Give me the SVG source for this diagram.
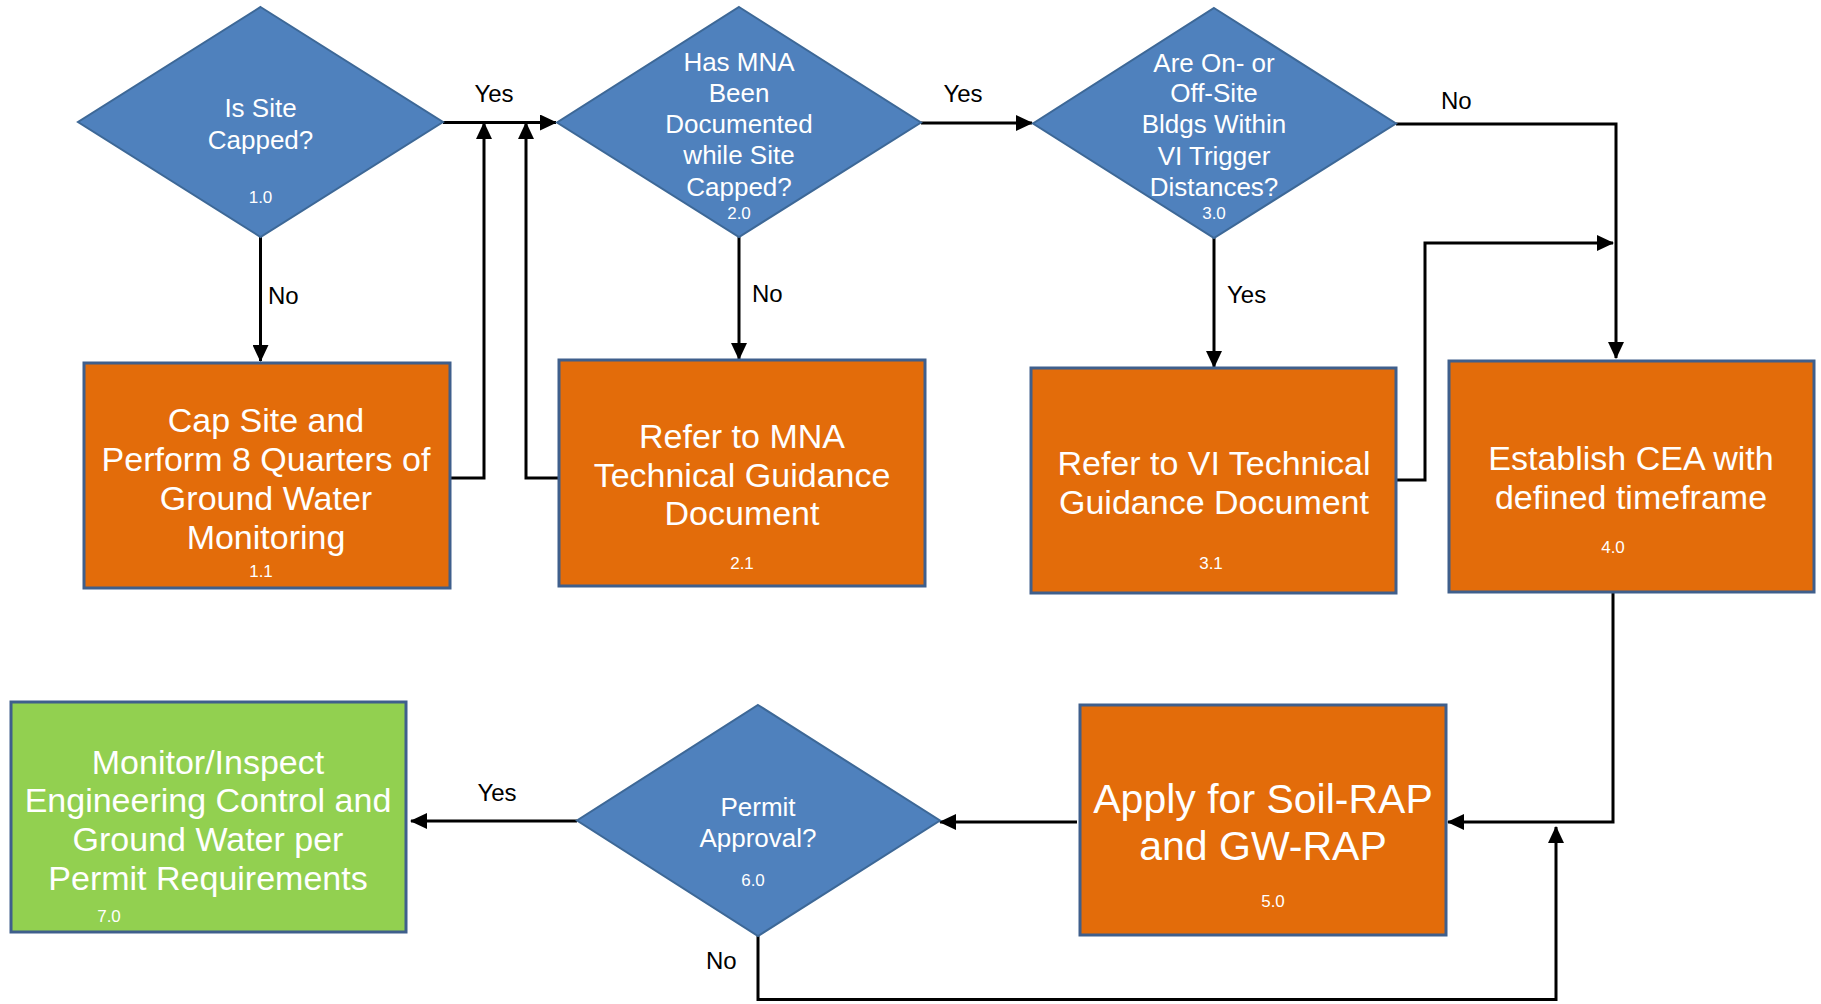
<svg xmlns="http://www.w3.org/2000/svg" width="1821" height="1004" viewBox="0 0 1821 1004">
<defs>
<style>
.dia{fill:#4F81BD;stroke:#3D6897;stroke-width:2}
.box{fill:#E36C0A;stroke:#3F5F8C;stroke-width:3}
.grn{fill:#92D050;stroke:#3F5F8C;stroke-width:3}
text{font-family:"Liberation Sans",Arial,sans-serif}
.t{fill:#fff;font-size:34px;text-anchor:middle}
.tb{fill:#fff;font-size:41px;text-anchor:middle}
.td{fill:#fff;font-size:26px;text-anchor:middle}
.n{fill:#fff;font-size:17px;text-anchor:middle}
.lbl{fill:#000;font-size:24px}
.c{fill:none;stroke:#000;stroke-width:3;marker-end:url(#arr)}
</style>
<marker id="arr" markerWidth="17" markerHeight="16" refX="16" refY="8" orient="auto" markerUnits="userSpaceOnUse"><path d="M0,0 L17,8 L0,16 Z" fill="#000"/></marker>
</defs>
<rect width="1821" height="1004" fill="#fff"/>

<g id="connectors">
<path class="c" d="M443,122.5 H556"/>
<path class="c" d="M450,478 H484 V123"/>
<path class="c" d="M559,478 H526 V123"/>
<path class="c" d="M260.5,237 V361"/>
<path class="c" d="M921,123 H1032"/>
<path class="c" d="M739,237 V359"/>
<path class="c" d="M1396,124 H1616 V358"/>
<path class="c" d="M1214,238 V367"/>
<path class="c" d="M1396,480 H1425 V243 H1613"/>
<path class="c" d="M1613,592 V822 H1448"/>
<path class="c" d="M1077,822 H940"/>
<path class="c" d="M577,821 H411"/>
<path class="c" d="M758,936 V999.5 H1556 V827"/>
<text class="lbl" x="494" y="102" text-anchor="middle">Yes</text>
<text class="lbl" x="268" y="304">No</text>
<text class="lbl" x="963" y="102" text-anchor="middle">Yes</text>
<text class="lbl" x="752" y="302">No</text>
<text class="lbl" x="1441" y="109">No</text>
<text class="lbl" x="1227" y="303">Yes</text>
<text class="lbl" x="497" y="801" text-anchor="middle">Yes</text>
<text class="lbl" x="706" y="969">No</text>
</g>

<g id="n1-0">
<polygon class="dia" points="260.5,7 443,122 260.5,237 78,122"/>
<text class="td" x="260.5" y="117">Is Site</text>
<text class="td" x="260.5" y="149">Capped?</text>
<text class="n" x="260.5" y="203">1.0</text>
</g>

<g id="n2-0">
<polygon class="dia" points="739,7 921,122.5 739,237 557,122.5"/>
<text class="td" x="739" y="71">Has MNA</text>
<text class="td" x="739" y="102">Been</text>
<text class="td" x="739" y="133">Documented</text>
<text class="td" x="739" y="164">while Site</text>
<text class="td" x="739" y="196">Capped?</text>
<text class="n" x="739" y="219">2.0</text>
</g>

<g id="n3-0">
<polygon class="dia" points="1214,8 1396,123.5 1214,238 1033,123.5"/>
<text class="td" x="1214" y="72">Are On- or</text>
<text class="td" x="1214" y="102">Off-Site</text>
<text class="td" x="1214" y="133">Bldgs Within</text>
<text class="td" x="1214" y="165">VI Trigger</text>
<text class="td" x="1214" y="196">Distances?</text>
<text class="n" x="1214" y="219">3.0</text>
</g>

<g id="n1-1">
<rect class="box" x="84" y="363" width="366" height="225"/>
<text class="t" x="266" y="432">Cap Site and</text>
<text class="t" x="266" y="471">Perform 8 Quarters of</text>
<text class="t" x="266" y="510">Ground Water</text>
<text class="t" x="266" y="549">Monitoring</text>
<text class="n" x="261" y="577">1.1</text>
</g>

<g id="n2-1">
<rect class="box" x="559" y="360" width="366" height="226"/>
<text class="t" x="742" y="448">Refer to MNA</text>
<text class="t" x="742" y="487">Technical Guidance</text>
<text class="t" x="742" y="525">Document</text>
<text class="n" x="742" y="569">2.1</text>
</g>

<g id="n3-1">
<rect class="box" x="1031" y="368" width="365" height="225"/>
<text class="t" x="1214" y="475">Refer to VI Technical</text>
<text class="t" x="1214" y="514">Guidance Document</text>
<text class="n" x="1211" y="569">3.1</text>
</g>

<g id="n4-0">
<rect class="box" x="1449" y="361" width="365" height="231"/>
<text class="t" x="1631" y="470">Establish CEA with</text>
<text class="t" x="1631" y="509">defined timeframe</text>
<text class="n" x="1613" y="553">4.0</text>
</g>

<g id="n5-0">
<rect class="box" x="1080" y="705" width="366" height="230"/>
<text class="tb" x="1263" y="813">Apply for Soil-RAP</text>
<text class="tb" x="1263" y="860">and GW-RAP</text>
<text class="n" x="1273" y="907">5.0</text>
</g>

<g id="n6-0">
<polygon class="dia" points="758,705 940,820.5 758,936 577,820.5"/>
<text class="td" x="758" y="816">Permit</text>
<text class="td" x="758" y="847">Approval?</text>
<text class="n" x="753" y="886">6.0</text>
</g>

<g id="n7-0">
<rect class="grn" x="11" y="702" width="395" height="230"/>
<text class="t" x="208" y="774">Monitor/Inspect</text>
<text class="t" x="208" y="812">Engineering Control and</text>
<text class="t" x="208" y="851">Ground Water per</text>
<text class="t" x="208" y="890">Permit Requirements</text>
<text class="n" x="109" y="922">7.0</text>
</g>
</svg>
